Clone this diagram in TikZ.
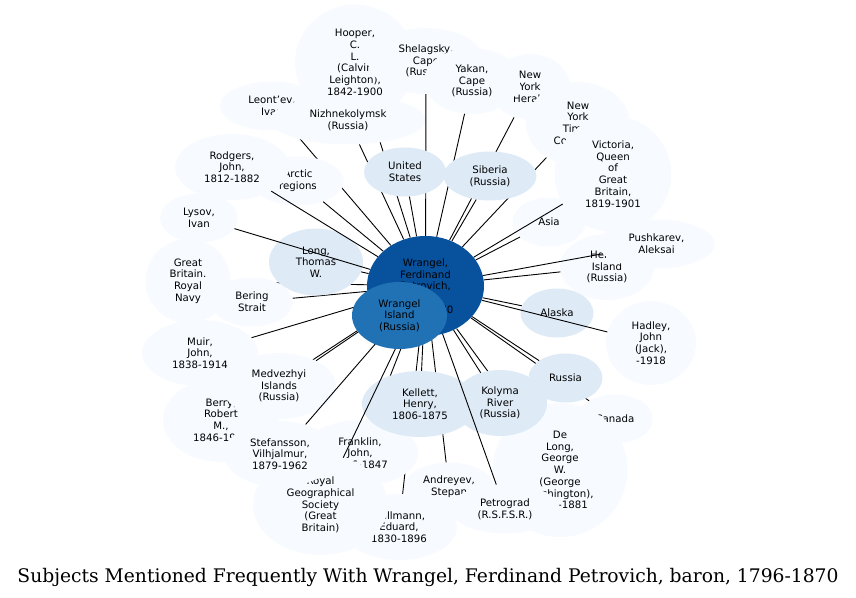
\documentclass[tikz,border=0pt]{standalone}
\usepackage{fontspec}
\usepackage{graphicx}
\setmainfont{DejaVu Sans}
\newfontfamily\titlefont{DejaVu Serif}
\usetikzlibrary{shapes.geometric}
\definecolor{pale}{HTML}{F7FBFF}
\definecolor{light}{HTML}{DEEBF7}
\definecolor{midblue}{HTML}{2171B5}
\definecolor{darkblue}{HTML}{08519C}
\tikzset{
  subj/.style={ellipse, inner sep=0pt, draw=none, align=center, text=black,
    font=\fontsize{10.2pt}{11.7pt}\selectfont},
  pn/.style={subj, fill=pale},
  ln/.style={subj, fill=light},
  sz/.style 2 args={minimum width=#1pt, minimum height=#2pt},
  edge/.style={draw=black, line width=0.9pt}
}
\begin{document}
\begin{tikzpicture}[x=1pt, y=-1pt]
\useasboundingbox (0,0) rectangle (856,597);
\node[subj, fill=darkblue, sz={117}{100}] (C) at (425.5,286) {Wrangel,\\Ferdinand\\Petrovich,\\baron,\\1796-1870};
\node[pn, sz={104}{49}] (leontev) at (272,106) {Leont'ev,\\Ivan};
\draw[edge] (C) -- (leontev);
\node[pn, sz={120}{116}] (hooper) at (355,62.5) {Hooper,\\C.\\L.\\(Calvin\\Leighton),\\1842-1900};
\draw[edge] (C) -- (hooper);
\node[pn, sz={156}{49}] (nizh) at (348,120) {Nizhnekolymsk\\(Russia)};
\draw[edge] (C) -- (nizh);
\node[pn, sz={116}{66}] (shel) at (426,61) {Shelagsky,\\Cape\\(Russia)};
\draw[edge] (C) -- (shel);
\node[ln, sz={82}{49}] (us) at (405,172) {United\\States};
\draw[edge] (C) -- (us);
\node[pn, sz={80}{66}] (nyh) at (530,87) {New\\York\\Herald};
\draw[edge] (C) -- (nyh);
\node[pn, sz={96}{66}] (yakan) at (472,81) {Yakan,\\Cape\\(Russia)};
\draw[edge] (C) -- (yakan);
\node[pn, sz={104}{84}] (nyt) at (578,124) {New\\York\\Times\\Company};
\draw[edge] (C) -- (nyt);
\node[ln, sz={93}{49}] (siberia) at (490,176) {Siberia\\(Russia)};
\draw[edge] (C) -- (siberia);
\node[pn, sz={73}{49}] (asia) at (549,222) {Asia};
\draw[edge] (C) -- (asia);
\node[pn, sz={117}{116}] (victoria) at (613,174) {Victoria,\\Queen\\of\\Great\\Britain,\\1819-1901};
\draw[edge] (C) -- (victoria);
\node[pn, sz={94}{66}] (herald) at (607,267) {Herald\\Island\\(Russia)};
\draw[edge] (C) -- (herald);
\node[pn, sz={117}{49}] (push) at (656.5,244) {Pushkarev,\\Aleksai};
\draw[edge] (C) -- (push);
\node[ln, sz={73}{49}] (alaska) at (557,313) {Alaska};
\draw[edge] (C) -- (alaska);
\node[pn, sz={90}{84}] (hadley) at (651,343) {Hadley,\\John\\(Jack),\\-1918};
\draw[edge] (C) -- (hadley);
\node[pn, sz={76}{49}] (canada) at (615,419) {Canada};
\draw[edge] (C) -- (canada);
\node[ln, sz={74}{49}] (russia) at (565.5,378) {Russia};
\draw[edge] (C) -- (russia);
\node[pn, sz={135}{134}] (delong) at (560,470) {De\\Long,\\George\\W.\\(George\\Washington),\\1844-1881};
\draw[edge] (C) -- (delong);
\node[ln, sz={94}{66}] (kolyma) at (500,403) {Kolyma\\River\\(Russia)};
\draw[edge] (C) -- (kolyma);
\node[pn, sz={90}{49}] (andreyev) at (449,487) {Andreyev,\\Stepan};
\draw[edge] (C) -- (andreyev);
\node[pn, sz={116}{66}] (dallmann) at (399,527) {Dallmann,\\Eduard,\\1830-1896};
\draw[edge] (C) -- (dallmann);
\node[pn, sz={116}{66}] (franklin) at (360,453) {Franklin,\\John,\\1786-1847};
\draw[edge] (C) -- (franklin);
\node[ln, sz={116}{66}] (kellett) at (420,404) {Kellett,\\Henry,\\1806-1875};
\draw[edge] (C) -- (kellett);
\node[pn, sz={110}{49}] (petrograd) at (505,509) {Petrograd\\(R.S.F.S.R.)};
\draw[edge] (C) -- (petrograd);
\node[pn, sz={135}{100}] (rgs) at (320.5,505) {Royal\\Geographical\\Society\\(Great\\Britain)};
\draw[edge] (C) -- (rgs);
\node[pn, sz={116}{84}] (berry) at (221,420) {Berry,\\Robert\\M.,\\1846-1929};
\draw[edge] (C) -- (berry);
\node[pn, sz={114}{66}] (medv) at (279,386) {Medvezhyi\\Islands\\(Russia)};
\draw[edge] (C) -- (medv);
\node[pn, sz={112}{66}] (stef) at (280,454) {Stefansson,\\Vilhjalmur,\\1879-1962};
\draw[edge] (C) -- (stef);
\node[pn, sz={116}{66}] (muir) at (200,353) {Muir,\\John,\\1838-1914};
\draw[edge] (C) -- (muir);
\node[pn, sz={85}{84}] (gb) at (188,281) {Great\\Britain.\\Royal\\Navy};
\draw[edge] (C) -- (gb);
\node[pn, sz={82}{49}] (bering) at (252,302) {Bering\\Strait};
\draw[edge] (C) -- (bering);
\node[ln, sz={94}{67}] (long) at (316,262) {Long,\\Thomas\\W.};
\draw[edge] (C) -- (long);
\node[pn, sz={78}{49}] (lysov) at (199,218) {Lysov,\\Ivan};
\draw[edge] (C) -- (lysov);
\node[pn, sz={92}{49}] (arctic) at (298,181) {Arctic\\regions};
\draw[edge] (C) -- (arctic);
\node[pn, sz={114}{66}] (rodgers) at (232,167) {Rodgers,\\John,\\1812-1882};
\draw[edge] (C) -- (rodgers);
\node[subj, fill=midblue, sz={95}{67}] (W) at (399.5,315.5) {Wrangel\\Island\\(Russia)};
\node[anchor=base, inner sep=0pt] (title) at (428,582) {\resizebox{821pt}{!}{\titlefont Subjects Mentioned Frequently With Wrangel, Ferdinand Petrovich, baron, 1796-1870}};
\end{tikzpicture}
\end{document}
